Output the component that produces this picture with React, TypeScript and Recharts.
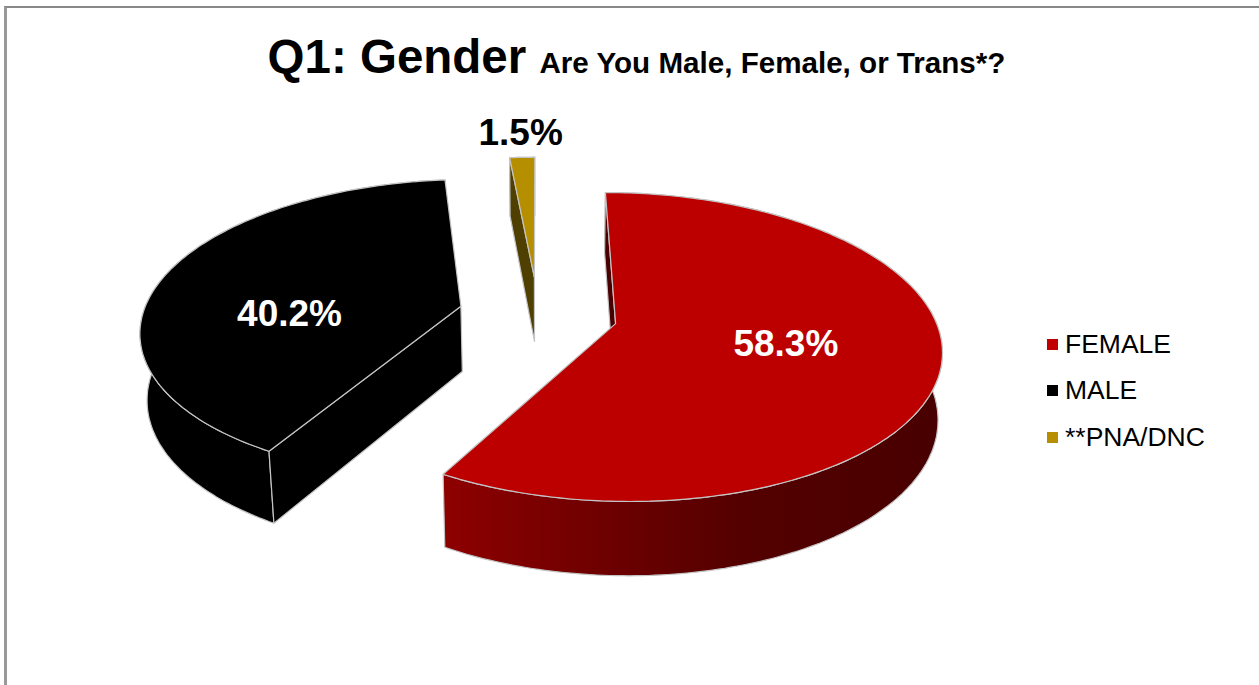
import { Legend, Pie, PieChart } from 'recharts';

const categories = ['FEMALE', 'MALE', '**PNA/DNC'];
const shares = [58.3, 40.2, 1.5];
const shareLabels = ['58.3%', '40.2%', '1.5%'];

const topColors = ['#BC0000', '#000000', '#B68F00'];
const rimColors = ['url(#femaleRim)', '#000000', '#4F3F00'];
const cutColors = ['#4A0000', '#000000', '#4F3F00'];
const legendColors = ['#C00000', '#000000', '#B68F00'];

// projection of the tilted pie plane onto the screen
const squash = 148 / 318;
const perspective = 0.15;
const explode = 0.25;
const sliceNudge = [[0, 0], [0, 0], [0, -1]];
const labelRadius = [0.52, 0.55, 1.25];
const labelNudge = [[4, -1], [-6, 24], [1, 1]];

const RAD = Math.PI / 180;

const tableData = categories.map((name, i) => ({
    name,
    value: shares[i],
    fill: legendColors[i],
}));

type Pt = [number, number];

const project = (p: any, i: number, r: number, angle: number): Pt => {
    const mid = p.midAngle * RAD;
    const u = explode * Math.cos(mid) + r * Math.cos(angle * RAD);
    const v = explode * Math.sin(mid) + r * Math.sin(angle * RAD);
    const w = 1 + perspective * v;
    return [
        p.cx + (p.outerRadius * u) / w + sliceNudge[i][0],
        p.cy - (p.outerRadius * squash * v) / w + sliceNudge[i][1],
    ];
};

// pushes a top-face point down to the bottom face
const extrude = (p: any, pt: Pt): Pt => [
    pt[0] - (pt[0] > p.cx ? 0.011 : 0.018) * (pt[0] - p.cx),
    pt[1] + 58.5 + 0.046 * (pt[1] - 158),
];

const toPath = (pts: Pt[]) =>
    pts.map((pt, k) => `${k ? 'L' : 'M'}${pt[0].toFixed(1)} ${pt[1].toFixed(1)}`).join(' ') + ' Z';

const Slice3D = (props: any) => {
    const i = categories.indexOf(props.name);
    const { startAngle, endAngle } = props;
    const steps = Math.max(4, Math.ceil(Math.abs(endAngle - startAngle)));
    const arc: Pt[] = [];
    for (let k = 0; k <= steps; k++) {
        arc.push(project(props, i, 1, startAngle + ((endAngle - startAngle) * k) / steps));
    }
    const apex = project(props, i, 0, startAngle);
    const rim = [...arc, ...arc.map((pt) => extrude(props, pt)).reverse()];
    const first = arc[0];
    const edge = { stroke: '#C4C4C4', strokeWidth: 1.2, strokeLinejoin: 'round' as const };
    return (
        <g>
            <path d={toPath(rim)} fill={rimColors[i]} {...edge} />
            <path
                d={toPath([apex, first, extrude(props, first), extrude(props, apex)])}
                fill={cutColors[i]}
                {...edge}
            />
            <path d={toPath([apex, ...arc])} fill={topColors[i]} {...edge} />
        </g>
    );
};

const SliceLabel = (props: any) => {
    const i = props.index;
    const pos = project(props, i, labelRadius[i], props.midAngle);
    return (
        <text
            x={pos[0] + labelNudge[i][0]}
            y={pos[1] + labelNudge[i][1]}
            textAnchor="middle"
            dominantBaseline="central"
            fontFamily="Liberation Sans"
            fontWeight="bold"
            fontSize={37}
            fill={i === 2 ? '#000000' : '#FFFFFF'}
        >
            {shareLabels[i]}
        </text>
    );
};

const LegendList = () => (
    <div style={{ fontFamily: 'Liberation Sans', fontSize: 26.5, color: '#000' }}>
        {categories.map((name, i) => (
            <div key={name} style={{ display: 'flex', alignItems: 'center', height: 46.5 }}>
                <span
                    style={{
                        width: 11,
                        height: 11,
                        marginRight: 7,
                        background: legendColors[i],
                    }}
                />
                {name}
            </div>
        ))}
    </div>
);

export default function App() {
    return (
        <div
            style={{
                position: 'absolute',
                left: 0,
                top: 0,
                width: 1259,
                height: 685,
                overflow: 'hidden',
                background: '#fff',
            }}
        >
            <div
                style={{
                    position: 'absolute',
                    left: 4,
                    top: 6,
                    width: 1255,
                    height: 679,
                    boxSizing: 'border-box',
                    borderLeft: '3px solid #999',
                    borderTop: '2px solid #888',
                }}
            />
            <div style={{ position: 'absolute', left: 0, top: 0 }}>
                <PieChart width={1259} height={685} margin={{ top: 0, right: 0, bottom: 0, left: 0 }}>
                    <defs>
                        <linearGradient id="femaleRim" x1="0" y1="0" x2="1" y2="0">
                            <stop offset="0" stopColor="#8E0000" />
                            <stop offset="0.3" stopColor="#700000" />
                            <stop offset="0.6" stopColor="#540000" />
                            <stop offset="1" stopColor="#480000" />
                        </linearGradient>
                    </defs>
                    <text
                        x={636.5}
                        y={72.5}
                        textAnchor="middle"
                        fontFamily="Liberation Sans"
                        fontWeight="bold"
                        fill="#000"
                    >
                        <tspan fontSize={47.5}>Q1: Gender </tspan>
                        <tspan fontSize={29.6}>Are You Male, Female, or Trans*?</tspan>
                    </text>
                    <Pie
                        data={tableData}
                        dataKey="value"
                        nameKey="name"
                        cx={538}
                        cy={314}
                        outerRadius={318}
                        startAngle={90}
                        endAngle={-270}
                        stroke="none"
                        shape={Slice3D}
                        label={SliceLabel}
                        labelLine={false}
                        isAnimationActive={false}
                    />
                    <Legend
                        layout="vertical"
                        align="right"
                        verticalAlign="top"
                        content={LegendList}
                        wrapperStyle={{ left: 1047, top: 321, width: 200, right: 'auto' }}
                    />
                </PieChart>
            </div>
        </div>
    );
}
